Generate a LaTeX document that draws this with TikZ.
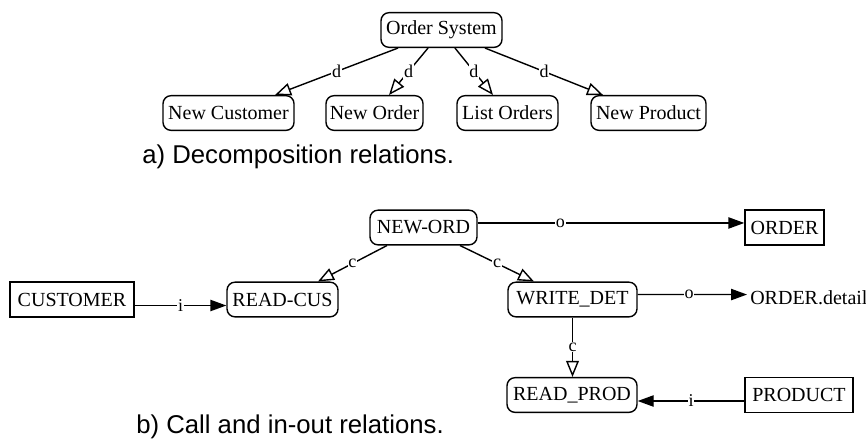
\documentclass[tikz,border=0pt]{standalone}
\usepackage{fontspec}
\setmainfont{Liberation Serif}
\newfontfamily\capfont{Liberation Sans}
\usetikzlibrary{arrows.meta}
\begin{document}
\begin{tikzpicture}[x=0.75pt,y=-0.75pt,
  proc/.style={draw,rounded corners=6pt,line width=1.05pt,inner sep=0pt,minimum height=26pt,font=\fontsize{15}{17}\selectfont},
  store/.style={draw,line width=1.05pt,inner sep=0pt,minimum height=26pt,font=\fontsize{15}{17}\selectfont},
  plaintext/.style={inner xsep=2.25pt,inner ysep=0pt,font=\fontsize{15}{17}\selectfont},
  rel/.style={line width=1.05pt},
  dec/.style={rel,-{Triangle[open,length=12pt,width=9.5pt]}},
  flow/.style={rel,-{Triangle[length=12pt,width=8.5pt]}},
  lab/.style={fill=white,inner sep=0.6pt,font=\fontsize{13.5}{15}\selectfont},
  caption/.style={anchor=base west,inner sep=0pt,font=\capfont\fontsize{19.3}{22}\selectfont}
]
\useasboundingbox (0,0) rectangle (866,444);

% a) decomposition
\node[proc,minimum width=90.75pt] (os) at (441.5,30) {Order System};
\node[proc,minimum width=98.25pt] (nc) at (228.5,113) {New Customer};
\node[proc,minimum width=72.75pt] (no) at (374.5,113) {New Order};
\node[proc,minimum width=75.75pt] (lo) at (507.5,113) {List Orders};
\node[proc,minimum width=86.25pt] (np) at (648.5,113) {New Product};

\draw[dec] ([xshift=-32.6pt]os.south) -- node[lab]{d} ([xshift=34.9pt]nc.north);
\draw[dec] ([xshift=-10.1pt]os.south) -- node[lab]{d} ([xshift=10.9pt]no.north);
\draw[dec] ([xshift=10.1pt]os.south) -- node[lab]{d} ([xshift=-10.9pt]lo.north);
\draw[dec] ([xshift=32.6pt]os.south) -- node[lab]{d} ([xshift=-34.1pt]np.north);

\node[caption] (capa) at (142,163.5) {a) Decomposition relations.};

% b) call and in-out
\node[proc,minimum width=80.25pt] (neword) at (423.5,227.5) {NEW-ORD};
\node[store,minimum width=59.25pt] (order) at (784.5,227.5) {ORDER};
\node[store,minimum width=93pt] (customer) at (72,299.5) {CUSTOMER};
\node[proc,minimum width=83.25pt] (readcus) at (282.5,299.5) {READ-CUS};
\node[proc,minimum width=96.75pt] (writedet) at (572.5,299.5) {WRITE\_DET};
\node[plaintext,anchor=west] (od) at (747,298) {ORDER.detail};
\node[proc,minimum width=97.5pt] (readprod) at (572,395) {READ\_PROD};
\node[store,minimum width=81pt] (product) at (799,395) {PRODUCT};

\draw[flow] ([yshift=3.4pt]neword.east) -- node[lab,pos=0.31]{o} ([yshift=3.4pt]order.west);
\draw[dec] ([xshift=-27.4pt]neword.south) -- node[lab]{c} ([xshift=26.6pt]readcus.north);
\draw[dec] ([xshift=27.4pt]neword.south) -- node[lab]{c} ([xshift=-28.9pt]writedet.north);
\draw[flow] ([yshift=-4.5pt]customer.east) -- node[lab]{i} ([yshift=-4.5pt]readcus.west);
\draw[flow] ([yshift=3.75pt]writedet.east) -- node[lab,pos=0.47]{o} ([yshift=2.6pt]od.west);
\draw[dec] (writedet.south) -- node[lab]{c} (writedet.south |- readprod.north);
\draw[flow] ([yshift=-4.5pt]product.west) -- node[lab]{i} ([yshift=-4.5pt]readprod.east);

\node[caption] (capb) at (136,433.5) {b) Call and in-out relations.};
\end{tikzpicture}
\end{document}
